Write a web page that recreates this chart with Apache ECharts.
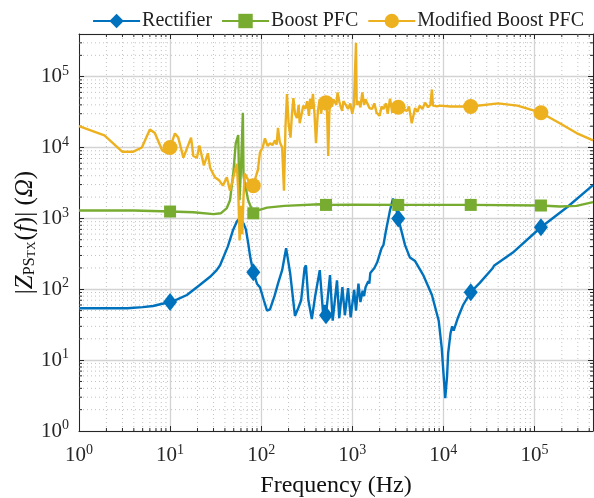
<!DOCTYPE html>
<html>
<head>
<meta charset="utf-8">
<title>impedance</title>
<script src="https://cdn.jsdelivr.net/npm/echarts@6/dist/echarts.min.js"></script>
</head>
<body style="margin:0">
<div id="main" style="width:594px;height:498px;background:#fff"></div>
<script>
// [frequency Hz, |Z| ohm]
var rectifier = [[1,54],[2,54],[3.4,54],[5,56],[6.5,58],[8,62],[10,66],[12,72],[15.3,83],[21,114],[27.5,150],[32.5,186],[35.4,218],[43,400],[49,680],[54,900],[58,1000],[61,950],[64,850],[68,700],[72,450],[76,280],[82,174],[90,120],[97,107],[107,70],[116,50],[125,52],[140,80],[153,120],[170,186],[188,380],[208,170],[235,42],[255,54],[275,70],[300,200],[310,218],[330,70],[360,38],[390,77],[440,186],[480,43],[500,60],[515,43],[570,158],[610,36],[680,134],[720,39],[780,107],[830,43],[900,104],[960,40],[1050,98],[1100,50],[1170,120],[1230,66],[1300,95],[1350,80],[1400,107],[1500,130],[1540,120],[1580,170],[1750,200],[1800,190],[1880,240],[2100,380],[2200,420],[2350,680],[2600,1300],[2800,1900],[3000,1500],[3200,1000],[3800,420],[4300,280],[4900,250],[6000,160],[7500,83],[8900,36],[9600,15],[10000,7],[10500,2.9],[11000,6],[11300,12.5],[12000,24],[12500,30],[13000,26],[14500,40],[16500,60],[20000,91],[25000,122],[35000,200],[36000,215],[37000,205],[58000,330],[118000,750],[230000,1450],[440000,2950]];
var boostPfc = [[1,1290],[4,1290],[10,1250],[18,1220],[30,1150],[36,1180],[42,1400],[45.5,1800],[49.5,4400],[52.6,11500],[56,15000],[57.8,1800],[60,5000],[63,31000],[64,4000],[66,3200],[72,1800],[82,1180],[92,1300],[116,1420],[180,1500],[440,1580],[515,1550],[1000,1560],[3200,1550],[20000,1550],[118000,1520],[190000,1470],[290000,1500],[440000,1700]];
var modifiedPfc = [[1,20000],[1.9,14800],[3,8700],[3.9,8700],[4.9,10000],[6,18000],[6.8,16000],[8.2,9100],[9.3,8300],[10,10000],[11.3,15800],[12.3,13800],[14,7200],[17,13800],[18,7600],[19.7,7200],[21,10700],[23.5,5600],[26,8300],[27.5,5200],[31,3800],[34.5,3450],[38,2900],[42,3800],[45.5,2450],[49,3600],[54,5900],[56,2500],[58,490],[60,1500],[62,600],[64,2000],[66,4300],[72,3500],[82,2900],[88,4000],[92,4800],[97,8500],[104,10000],[110,13500],[118,10500],[125,11500],[133,10800],[142,12600],[148,11000],[153,19000],[160,12000],[170,10000],[178,2450],[185,20000],[192,57000],[200,22000],[210,13800],[218,30000],[226,50000],[235,30000],[247,26000],[258,40000],[265,22000],[280,31000],[290,39000],[305,35000],[320,45000],[335,28000],[345,49000],[358,35000],[370,57000],[385,30000],[400,11500],[420,33000],[440,48000],[455,30000],[470,40000],[490,35000],[515,43000],[530,30000],[545,7600],[560,30000],[570,43000],[600,38000],[620,48000],[650,50000],[670,40000],[690,60000],[720,45000],[745,38000],[775,33000],[800,45000],[850,40000],[900,35000],[950,42000],[1000,30000],[1040,38000],[1080,40000],[1100,300000],[1120,40000],[1170,45000],[1230,37000],[1290,60000],[1350,40000],[1400,48000],[1450,43000],[1550,36000],[1650,35000],[1750,42000],[1850,31000],[2000,28000],[2100,38000],[2200,35000],[2350,42000],[2450,30000],[2600,49000],[2750,31000],[2900,40000],[3200,37000],[3500,40000],[3700,34000],[4000,33000],[4200,38000],[4500,22000],[4900,36000],[5200,32000],[5500,39000],[5900,35000],[6300,43000],[6800,37000],[7200,40000],[7500,66000],[7700,39000],[8500,38000],[9200,39000],[12000,38000],[20000,38000],[40000,42000],[65000,39000],[118000,31000],[190000,22000],[290000,16000],[440000,12600]];
var markerFreqs = [10, 82, 515, 3200, 20000, 118000];
var seriesNames = ['Rectifier', 'Boost PFC', 'Modified Boost PFC'];
var xMax = 440000, yMax = 400000;

var minorX = [], minorY = [];
for (var k = 0; k < 6; k++) {
  for (var m = 2; m < 10; m++) {
    var v = m * Math.pow(10, k);
    if (v < xMax) minorX.push([v, 1, 0]);
    if (v < yMax) minorY.push([1, v, 1]);
  }
}

var font = 'Liberation Serif';
var markerSet = {};
markerFreqs.forEach(function (f) { markerSet[f] = true; });

function pow10(v) {
  return '{b|10}{e|' + Math.round(Math.log10(v)) + '}';
}
var labelRich = {
  b: { fontFamily: font, fontSize: 21, color: '#262626' },
  e: { fontFamily: font, fontSize: 14, color: '#262626', verticalAlign: 'top', padding: [0, 0, 11, 0] }
};

function lineSeries(name, data, color, symbol, size) {
  return {
    name: name,
    type: 'line',
    data: data,
    color: color,
    symbol: symbol,
    showAllSymbol: true,
    symbolSize: function (val) { return markerSet[val[0]] ? size : 0; },
    lineStyle: { width: 2.4, color: color },
    itemStyle: { color: color },
    emphasis: { disabled: true },
    animation: false,
    z: 3
  };
}

var chart = echarts.init(document.getElementById('main'));
chart.setOption({
  animation: false,
  textStyle: { fontFamily: font },
  legend: {
    top: 6,
    right: 5,
    itemGap: 9,
    itemWidth: 47,
    itemHeight: 18,
    textStyle: { fontFamily: font, fontSize: 20, color: '#222', padding: [0, 0, 0, -3] },
    data: seriesNames
  },
  grid: { left: 79, right: 1, top: 34, bottom: 67, containLabel: false, outerBoundsMode: 'none' },
  xAxis: [{
    type: 'log', logBase: 10, min: 1, max: xMax,
    name: 'Frequency (Hz)', nameLocation: 'middle', nameGap: 43, nameMoveOverlap: false,
    nameTextStyle: { fontFamily: font, fontSize: 24, color: '#111' },
    axisLine: { lineStyle: { color: '#262626', width: 1 } },
    axisTick: { inside: true, length: 5, lineStyle: { color: '#262626' } },
    axisLabel: { formatter: pow10, rich: labelRich, margin: 12, showMaxLabel: false },
    splitLine: { show: true, lineStyle: { color: '#d3d3d3', width: 1.3 } }
  }, {
    type: 'log', logBase: 10, min: 1, max: xMax, position: 'top',
    axisLine: { lineStyle: { color: '#262626', width: 1 } },
    axisTick: { inside: true, length: 5, lineStyle: { color: '#262626' } },
    axisLabel: { show: false }, splitLine: { show: false }
  }],
  yAxis: [{
    type: 'log', logBase: 10, min: 1, max: yMax,
    name: '|{z|Z}{s|PS}{t|TX}({z|f})| ({z|Ω})', nameLocation: 'middle', nameGap: 41, nameMoveOverlap: false,
    nameTextStyle: {
      fontFamily: font, fontSize: 25, color: '#111',
      rich: {
        z: { fontFamily: font, fontSize: 25, fontStyle: 'italic', color: '#111' },
        s: { fontFamily: font, fontSize: 16, color: '#111', verticalAlign: 'bottom', padding: [9, 0, 0, 0] },
        t: { fontFamily: font, fontSize: 12, color: '#111', verticalAlign: 'bottom', padding: [13, 1, 0, 0] }
      }
    },
    axisLine: { lineStyle: { color: '#262626', width: 1 } },
    axisTick: { inside: true, length: 5, lineStyle: { color: '#262626' } },
    axisLabel: { formatter: pow10, rich: labelRich, margin: 10, showMaxLabel: false },
    splitLine: { show: true, lineStyle: { color: '#d3d3d3', width: 1.3 } }
  }, {
    type: 'log', logBase: 10, min: 1, max: yMax, position: 'right',
    axisLine: { lineStyle: { color: '#262626', width: 1 } },
    axisTick: { inside: true, length: 5, lineStyle: { color: '#262626' } },
    axisLabel: { show: false }, splitLine: { show: false }
  }],
  series: [{
    type: 'custom',
    silent: true,
    z: 1,
    data: minorX.concat(minorY),
    renderItem: function (params, api) {
      var cs = params.coordSys;
      var p = api.coord([api.value(0), api.value(1)]);
      var dot = { stroke: '#c2c2c2', lineWidth: 1, lineDash: [1, 3] };
      var tick = { stroke: '#262626', lineWidth: 1 };
      if (api.value(2) === 0) {
        return { type: 'group', children: [
          { type: 'line', shape: { x1: p[0], y1: cs.y, x2: p[0], y2: cs.y + cs.height }, style: dot },
          { type: 'line', shape: { x1: p[0], y1: cs.y + cs.height, x2: p[0], y2: cs.y + cs.height - 3 }, style: tick },
          { type: 'line', shape: { x1: p[0], y1: cs.y, x2: p[0], y2: cs.y + 3 }, style: tick }
        ] };
      }
      return { type: 'group', children: [
        { type: 'line', shape: { x1: cs.x, y1: p[1], x2: cs.x + cs.width, y2: p[1] }, style: dot },
        { type: 'line', shape: { x1: cs.x, y1: p[1], x2: cs.x + 3, y2: p[1] }, style: tick },
        { type: 'line', shape: { x1: cs.x + cs.width, y1: p[1], x2: cs.x + cs.width - 3, y2: p[1] }, style: tick }
      ] };
    }
  },
    lineSeries(seriesNames[0], rectifier, '#0072BD', 'diamond', [14, 18]),
    lineSeries(seriesNames[1], boostPfc, '#77AC30', 'rect', 12),
    lineSeries(seriesNames[2], modifiedPfc, '#EDB120', 'circle', 15)
  ]
});
</script>
</body>
</html>
